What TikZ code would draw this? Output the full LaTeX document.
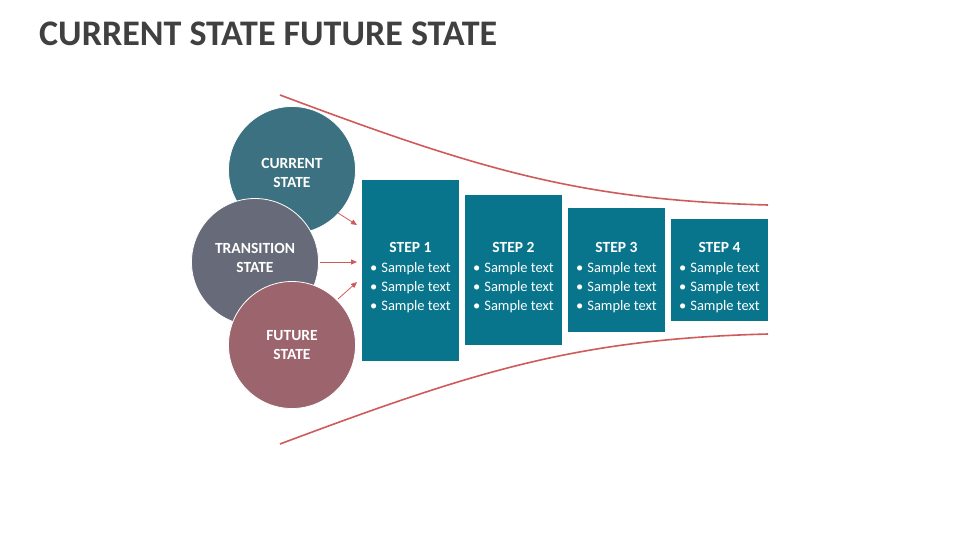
\documentclass[tikz,border=0pt]{standalone}
\usepackage{fontspec}
\setmainfont{Carlito}
\usetikzlibrary{arrows.meta}
\definecolor{titlegray}{HTML}{404040}
\definecolor{curcol}{HTML}{3B7181}
\definecolor{trancol}{HTML}{676A78}
\definecolor{futcol}{HTML}{9C646C}
\definecolor{boxcol}{HTML}{08758C}
\definecolor{redline}{HTML}{D05A5A}
\tikzset{
  statecirc/.style={circle, draw=white, line width=0.8pt, minimum size=127pt, inner sep=0pt},
  statelabel/.style={text=white, font=\bfseries\fontsize{15.5}{19}\selectfont, align=center, inner sep=0pt},
  stepbox/.style={rectangle, fill=boxcol, minimum width=97pt, inner sep=0pt},
  steptext/.style={text=white, font=\fontsize{14.5}{19}\selectfont, inner sep=0pt},
  funnel/.style={draw=redline, line width=1.6pt},
  conn/.style={draw=redline, line width=0.8pt, -{Triangle[length=6pt,width=5pt]}}
}
\newcommand{\stepcontent}[1]{%
  \begin{tabular}{@{}l@{}}
  \multicolumn{1}{c}{\fontsize{15.5}{19}\selectfont\bfseries STEP #1}\\[1pt]
  •\hspace{4pt}Sample text\\
  •\hspace{4pt}Sample text\\
  •\hspace{4pt}Sample text
  \end{tabular}}
\begin{document}
\begin{tikzpicture}[x=1pt,y=-1pt]
\useasboundingbox (0,0) rectangle (960,540);
\node[anchor=base west, text=titlegray, font=\bfseries\fontsize{36}{40}\selectfont, inner sep=0pt] (title) at (39,46) {CURRENT STATE FUTURE STATE};

% funnel curves
\coordinate (ta) at (280,95);
\coordinate (tb) at (768,205);
\coordinate (ba) at (280,444);
\coordinate (bb) at (768,334);
\draw[funnel] (ta) .. controls (480,170) and (580,200) .. (tb);
\draw[funnel] (ba) .. controls (480,369) and (580,339) .. (bb);

% circles
\node[statecirc, fill=curcol] (cur) at (292,170) {};
\node[statelabel] (curl) at (292,173) {CURRENT\\STATE};
\node[statecirc, fill=trancol] (tra) at (255,262) {};
\node[statelabel] (tral) at (255,258) {TRANSITION\\STATE};
\node[statecirc, fill=futcol] (fut) at (292,345) {};
\node[statelabel] (futl) at (292,345) {FUTURE\\STATE};

% step boxes
\node[stepbox, minimum height=181pt] (s1) at (410.5,270.5) {};
\node[stepbox, minimum height=150pt] (s2) at (513.5,270) {};
\node[stepbox, minimum height=124pt] (s3) at (616.5,270) {};
\node[stepbox, minimum height=102pt] (s4) at (719.5,270) {};

\node[steptext] (t1) at (410.5,278) {\stepcontent{1}};
\node[steptext] (t2) at (513.5,278) {\stepcontent{2}};
\node[steptext] (t3) at (616.5,278) {\stepcontent{3}};
\node[steptext] (t4) at (719.5,278) {\stepcontent{4}};

% connectors
\coordinate (c1) at (338,213);
\coordinate (c2) at (320,262);
\coordinate (c3) at (338,299);
\coordinate (e1) at (357,225);
\coordinate (e2) at (357,262);
\coordinate (e3) at (357,282);
\draw[conn] (c1) -- (e1);
\draw[conn] (c2) -- (e2);
\draw[conn] (c3) -- (e3);
\end{tikzpicture}
\end{document}
